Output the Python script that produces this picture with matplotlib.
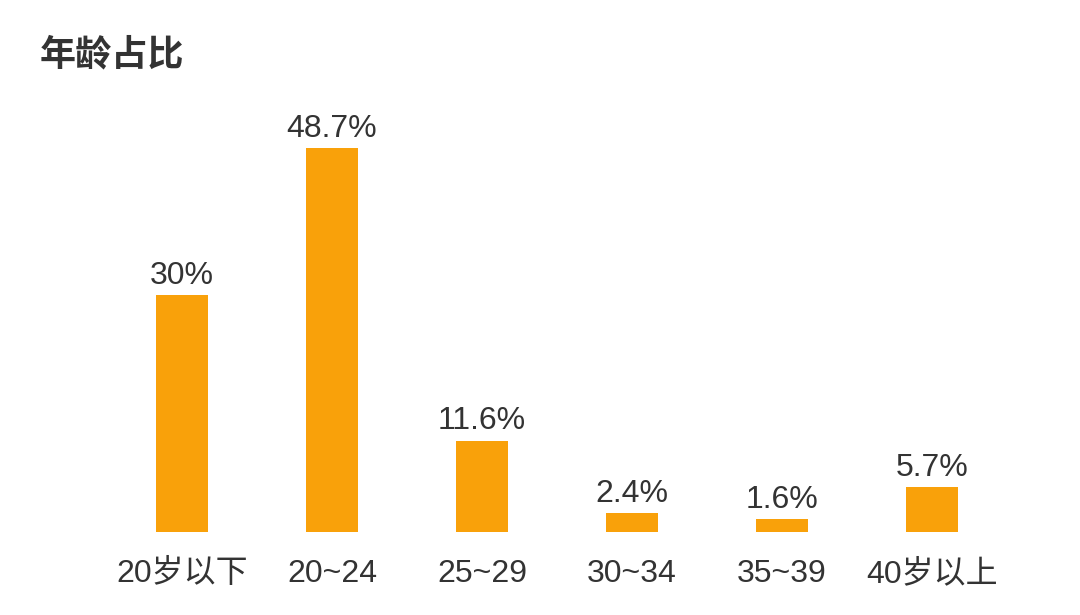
import matplotlib
matplotlib.use('Agg')
from matplotlib import pyplot as plt

# 中文字体, 数字用 Liberation Sans
plt.rcParams['font.family'] = ['Liberation Sans', 'Noto Sans CJK SC', 'DejaVu Sans']

# 数据
categories = ['20岁以下', '20~24', '25~29', '30~34', '35~39', '40岁以上']
values = [30, 48.7, 11.6, 2.4, 1.6, 5.7]
value_labels = ['30%', '48.7%', '11.6%', '2.4%', '1.6%', '5.7%']

bar_color = '#F9A10A'
text_color = '#333333'

fig = plt.figure(figsize=(10.8, 6.15), dpi=100)
ax = fig.add_axes([107 / 1080, 83 / 615, 900 / 1080, 400 / 615])

x = range(len(categories))
bars = ax.bar(x, values, width=0.347, color=bar_color)
ax.set_xlim(-0.5, 5.5)
ax.set_ylim(0, 50.73)

# 数值标签
for b, lab in zip(bars, value_labels):
    ax.annotate(lab, (b.get_x() + b.get_width() / 2, b.get_height()),
                xytext=(0, 8), textcoords='offset points',
                ha='center', va='baseline', fontsize=23, color=text_color)

ax.set_xticks(list(x))
ax.set_xticklabels(categories, fontsize=23, color=text_color)
for t in ax.get_xticklabels():
    t.set_va('baseline')
ax.tick_params(axis='x', length=0, pad=36)
ax.set_yticks([])
for s in ax.spines.values():
    s.set_visible(False)

fig.text(40 / 1080, 1 - 55 / 615, '年龄占比', fontsize=26, fontweight='bold',
         family=['Noto Sans CJK SC'], color=text_color, ha='left', va='center')

fig.savefig('out.png', dpi=100, facecolor='white')
